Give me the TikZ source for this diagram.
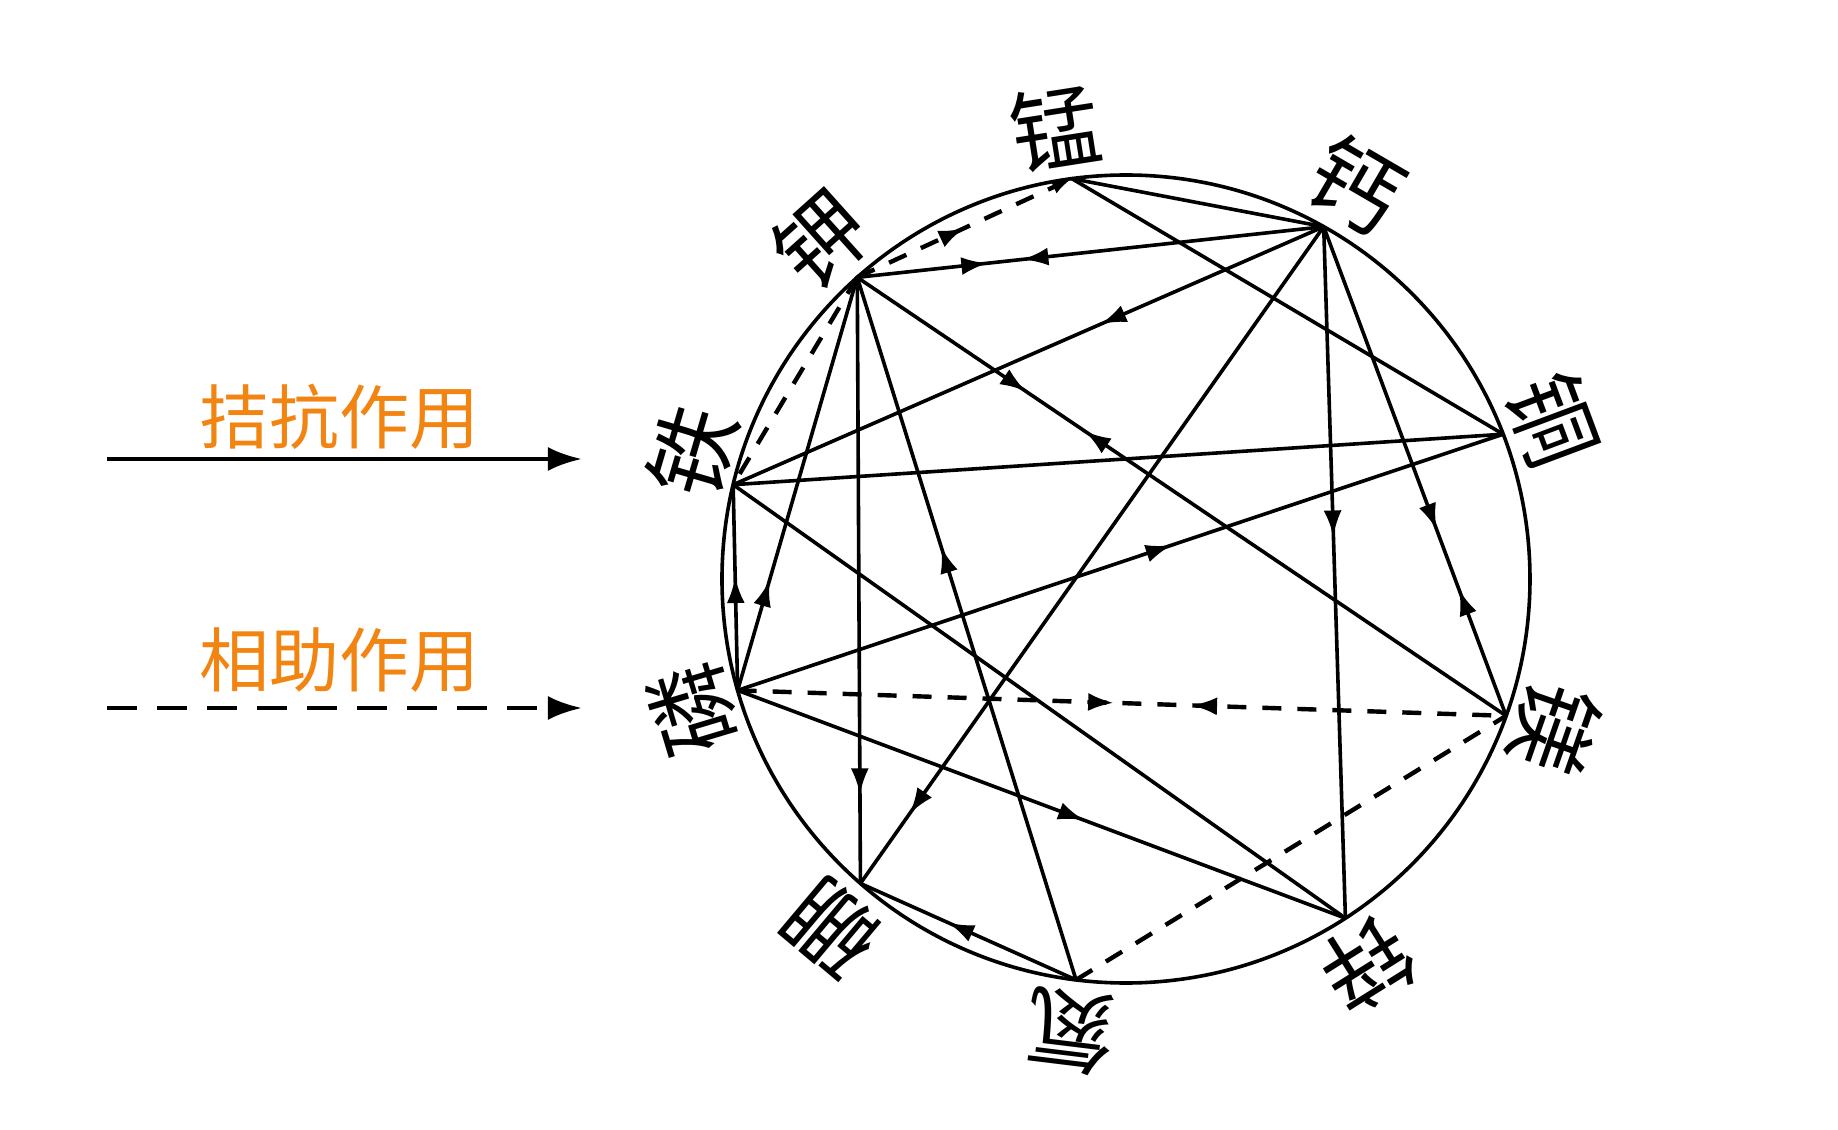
\documentclass[tikz,border=0pt]{standalone}
\usepackage{fontspec}
\newfontfamily\cjk{Noto Sans CJK SC}
\usepackage{tikz}
\usetikzlibrary{arrows.meta,decorations.markings}
\definecolor{keyorange}{RGB}{242,132,18}
\tikzset{el node/.style={font=\cjk\fontsize{45}{45}\selectfont,inner sep=0pt},
  key node/.style={font=\cjk\fontsize{35}{35}\selectfont,text=keyorange,inner sep=0pt},
  anta/.style={line width=1.8pt},
  assist/.style={line width=2.2pt,dash pattern=on 9.5pt off 8pt},
  fwd/.style={postaction={decorate},decoration={markings,mark=at position #1 with {\arrow{Latex[length=13pt,width=9pt]}}}},
  fbw/.style 2 args={postaction={decorate},decoration={markings,mark=at position #1 with {\arrow{Latex[length=13pt,width=9pt]}},mark=at position #2 with {\arrowreversed{Latex[length=13pt,width=9pt]}}}},}

\begin{document}
\begin{tikzpicture}[x=0.5pt,y=0.5pt]
        \useasboundingbox (-1126,-551) rectangle (712,579);
        % Nodes
        \coordinate (Mn) at (97.7:404);
        \coordinate (K) at (131.7:404);
        \coordinate (Ca) at (60.7:404);
        \coordinate (Cu) at (21:404);
        \coordinate (Fe) at (166.5:404);
        \coordinate (P) at (196:404);
        \coordinate (Mg) at (340.2:404);
        \coordinate (Zn) at (302.9:404);
        \coordinate (N) at (262.9:404);
        \coordinate (B) at (228.9:404);
        \node[el node,rotate=8.9] (Mn-t) at (98.9:456) {锰};
        \node[el node,rotate=41.9] (K-t) at (131.9:456) {钾};
        \node[el node,rotate=-30.2] (Ca-t) at (59.8:456) {钙};
        \node[el node,rotate=-69.5] (Cu-t) at (20.5:456) {铜};
        \node[el node,rotate=73.6] (Fe-t) at (163.6:452) {铁};
        \node[el node,rotate=106.7] (P-t) at (196.7:452) {磷};
        \node[el node,rotate=250.8] (Mg-t) at (340.8:454) {镁};
        \node[el node,rotate=212.1] (Zn-t) at (302.1:455) {锌};
        \node[el node,rotate=173] (N-t) at (263:456) {氮};
        \node[el node,rotate=139.9] (B-t) at (229.9:456) {硼};
        % Legend
        \node[key node] (anta-t) at (-786,162) {拮抗作用};
        \node[key node] (assist-t) at (-786,-81) {相助作用};
        \coordinate (anta-a) at (-1019,120);
        \coordinate (anta-b) at (-544,120);
        \coordinate (assist-a) at (-1019,-129);
        \coordinate (assist-b) at (-544,-129);
        \draw[line width=2.4pt,-{Latex[length=17pt,width=12pt]}] (anta-a) -- (anta-b);
        \draw[line width=2.4pt,dash pattern=on 15pt off 10pt,-{Latex[length=17pt,width=12pt]}] (assist-a) -- (assist-b);
        % Circle
        \draw[anta] (0,0) circle (404);
        % Paths
        \path[draw,anta]
        (K) edge[fbw={0.279}{0.354}] (Ca)
        (Mn) edge (Ca)
        (Mn) edge (Cu)
        (Ca) edge[fwd=0.378] (Fe)
        (Ca) edge[fwd=0.894] (B)
        (Ca) edge[fwd=0.448] (Zn)
        (Ca) edge[fbw={0.619}{0.742}] (Mg)
        (K) edge[fbw={0.26}{0.351}] (Mg)
        (K) edge[fwd=0.853] (B)
        (N) edge[fwd=0.616] (K)
        (P) edge[fwd=0.266] (K)
        (P) edge[fwd=0.551] (Fe)
        (Fe) edge (Cu)
        (Fe) edge (Zn)
        (P) edge[fwd=0.567] (Cu)
        (P) edge[fwd=0.57] (Zn)
        (N) edge[fwd=0.593] (B);
        \path[draw,assist]
        (K) edge[fwd=0.5,-{Latex[length=10pt,width=7pt]}] (Mn)
        (K) edge (Fe)
        (P) edge[fbw={0.49}{0.59}] (Mg)
        (N) edge (Mg);
\end{tikzpicture}
\end{document}
